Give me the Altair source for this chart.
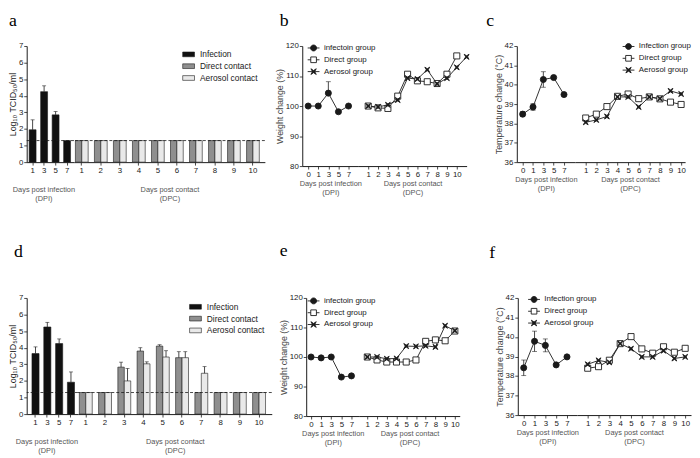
import altair as alt
import pandas as pd

# ------------------------------------------------------------------ data
DPI_BAR_DAYS = [1, 3, 5, 7]
DPI_LINE_DAYS = [0, 1, 3, 5, 7]
DPC_DAYS = [1, 2, 3, 4, 5, 6, 7, 8, 9, 10]
DPC_DAYS_B_AEROSOL = [1, 2, 3, 4, 5, 6, 7, 8, 9, 10, 11]
DETECTION_LIMIT = 1.3

BAR_GROUPS = ["Infection", "Direct contact", "Aerosol contact"]
WEIGHT_GROUPS = ["infectoin group", "Direct group", "Aerosol group"]
TEMP_GROUPS = ["Infection group", "Direct group", "Aerosol group"]

# panel a : virus titre (Log10 TCID50/ml)
a_inf = [1.95, 4.25, 2.85, 1.3]
a_inf_err = [0.6, 0.35, 0.2, 0.0]
a_direct = [1.3, 1.3, 1.3, 1.3, 1.3, 1.3, 1.3, 1.3, 1.3, 1.3]
a_direct_err = [0, 0, 0, 0, 0, 0, 0, 0, 0, 0]
a_aerosol = [1.3, 1.3, 1.3, 1.3, 1.3, 1.3, 1.3, 1.3, 1.3, 1.3]
a_aerosol_err = [0, 0, 0, 0, 0, 0, 0, 0, 0, 0]

# panel d : virus titre (Log10 TCID50/ml)
d_inf = [3.65, 5.25, 4.25, 1.92]
d_inf_err = [0.4, 0.28, 0.28, 0.62]
d_direct = [1.3, 1.3, 2.83, 3.8, 4.1, 3.4, 1.3, 1.3, 1.3, 1.3]
d_direct_err = [0, 0, 0.3, 0.2, 0.08, 0.36, 0, 0, 0, 0]
d_aerosol = [1.3, 1.3, 2.0, 3.03, 3.44, 3.4, 2.46, 1.3, 1.3, 1.3]
d_aerosol_err = [0, 0, 0.75, 0.12, 0.38, 0.36, 0.4, 0, 0, 0]

# panel b : weight change (%)
b_inf = [100.0, 100.0, 104.3, 98.1, 100.0]
b_inf_err_up = [0, 0, 3.8, 0, 0]
b_inf_err_dn = [0, 0, 0, 0, 0]
b_direct = [100.0, 99.4, 99.2, 103.3, 110.6, 108.4, 108.1, 107.5, 110.6, 116.7]
b_aerosol = [100.0, 99.7, 100.4, 102.0, 109.3, 109.0, 112.1, 107.4, 109.3, 112.9, 116.4]

# panel c : temperature (°C)
c_inf = [38.48, 38.85, 40.27, 40.37, 39.49]
c_inf_err_up = [0.13, 0.17, 0.4, 0, 0]
c_inf_err_dn = [0.13, 0.17, 0.4, 0, 0]
c_direct = [38.28, 38.48, 38.87, 39.4, 39.52, 39.28, 39.37, 39.27, 39.1, 38.98]
c_aerosol = [38.06, 38.18, 38.36, 39.37, 39.37, 38.85, 39.37, 39.28, 39.68, 39.52]

# panel e : weight change (%)
e_inf = [100.0, 99.7, 100.0, 93.2, 93.6]
e_inf_err_up = [0, 0, 0, 0, 0]
e_inf_err_dn = [0, 0, 0, 0, 0]
e_direct = [100.0, 99.0, 98.3, 98.3, 98.3, 99.0, 105.3, 105.8, 105.5, 108.8]
e_aerosol = [100.0, 100.0, 99.4, 99.5, 103.7, 103.6, 103.8, 103.4, 110.6, 108.9]

# panel f : temperature (°C)
f_inf = [38.42, 39.78, 39.57, 38.57, 38.98]
f_inf_err_up = [0.4, 0.52, 0.33, 0, 0]
f_inf_err_dn = [0.4, 0.52, 0.33, 0, 0]
f_direct = [38.4, 38.48, 38.81, 39.66, 40.02, 39.39, 39.17, 39.5, 39.22, 39.42]
f_aerosol = [38.6, 38.8, 38.7, 39.66, 39.4, 38.98, 38.98, 39.3, 38.9, 38.98]

# ------------------------------------------------------------------ style
SANS = "Liberation Sans"
SERIF = "Liberation Serif"
INK = "#1a1a1a"
GREY = "#555555"

STAR = "M0,-0.32L0.8,-0.85L0.32,0L0.8,0.85L0,0.32L-0.8,0.85L-0.32,0L-0.8,-0.85Z"
MARKERS = ["circle", "square", STAR]
LEGEND_MARKERS = [
    "M-1,0L1,0M0.5,0A0.5,0.5,0,1,1,-0.5,0A0.5,0.5,0,1,1,0.5,0Z",
    "M-1,0L-0.48,0M0.48,0L1,0M-0.48,-0.48L0.48,-0.48L0.48,0.48L-0.48,0.48Z",
    "M-1,0L1,0M0,-0.18L0.45,-0.48L0.18,0L0.45,0.48L0,0.18L-0.45,0.48L-0.18,0L-0.45,-0.48Z",
]
MARKER_FILLS = [INK, "#ffffff", INK]
BAR_FILLS = ["#111111", "#8f8f8f", "#e9e9e9"]
BAR_LEGEND_SYMBOL = "M-1,-0.4L1,-0.4L1,0.4L-1,0.4Z"

INDEP = dict(color="independent", fill="independent", shape="independent",
             stroke="independent", xOffset="independent")


def x_axis(title, title_pad, values=None, title_x=None):
    kw = dict(title=title, labelAngle=0, labelFont=SANS, labelFontSize=8,
              labelColor=INK, labelPadding=2, tickSize=3, tickWidth=0.8,
              tickColor=INK, domainColor=INK, domainWidth=1, grid=False,
              titleFont=SANS, titleFontSize=7.5, titleFontWeight="normal",
              titleColor=GREY, titlePadding=title_pad, titleLineHeight=9)
    if values is not None:
        kw["values"] = values
    if title_x is not None:
        kw["titleX"] = title_x
    return alt.Axis(**kw)


def y_axis(title, values, title_color):
    return alt.Axis(title=title, values=values, grid=False, tickSize=3,
                    tickWidth=0.8, tickColor=INK, domainColor=INK, domainWidth=1,
                    labelFont=SANS, labelFontSize=8, labelColor=INK,
                    labelPadding=1, titleFont=SANS, titleFontSize=9,
                    titleFontWeight="normal", titleColor=title_color,
                    titlePadding=1)


def letter_title(letter, offset, dx):
    return alt.TitleParams(text=letter, anchor="start", frame="group",
                           orient="top", font=SERIF, fontSize=18,
                           fontWeight="normal", color="#000000",
                           offset=offset, dx=dx, baseline="alphabetic")


def spacer(w, h):
    return alt.Chart(pd.DataFrame({"s": [0]})).mark_point(opacity=0).encode(
        x=alt.value(0), y=alt.value(0)).properties(width=w, height=h)


# ------------------------------------------------------------------ bar panels
def bar_panel(letter, inf, inf_err, direct, direct_err, aerosol, aerosol_err, lay):
    yscale = alt.Scale(domain=[0, 7], nice=False, zero=True)
    yax = y_axis("Log₁₀ TCID₅₀/ml", [0, 1, 2, 3, 4, 5, 6, 7], INK)

    def yd(field, ax=True):
        return alt.Y(field, type="quantitative", scale=yscale,
                     axis=yax if ax else None)

    dpi_df = pd.DataFrame({"day": DPI_BAR_DAYS, "value": inf, "err": inf_err})
    dpc_df = pd.DataFrame({
        "day": DPC_DAYS + DPC_DAYS,
        "group": [BAR_GROUPS[1]] * len(DPC_DAYS) + [BAR_GROUPS[2]] * len(DPC_DAYS),
        "value": direct + aerosol,
        "err": direct_err + aerosol_err,
    })
    lod_df = pd.DataFrame({"lod": [DETECTION_LIMIT]})

    # --- DPI part
    xd = alt.X("day:O", scale=alt.Scale(type="band", domain=DPI_BAR_DAYS,
                                        paddingInner=0.4,
                                        paddingOuter=lay["dpi_po"],
                                        align=lay["dpi_al"]),
               axis=x_axis(["Days post infection", "(DPI)"], 11,
                           title_x=lay["dpi_tx"]))
    bars = alt.Chart(dpi_df).mark_bar(color=BAR_FILLS[0], stroke=INK,
                                      strokeWidth=0.6).encode(x=xd, y=yd("value"))
    errs = alt.Chart(dpi_df).transform_filter("datum.err > 0").transform_calculate(
        hi="datum.value + datum.err")
    e_rule = errs.mark_rule(color=INK, strokeWidth=0.8).encode(
        x=xd, y=yd("value"), y2="hi:Q")
    e_cap = errs.mark_tick(color=INK, size=4, thickness=0.8).encode(x=xd, y=yd("hi"))
    lod = alt.Chart(lod_df).mark_rule(color=INK, strokeDash=[3, 2],
                                      strokeWidth=0.8).encode(y=yd("lod"))
    dpi = alt.layer(bars, e_rule, e_cap, lod).properties(
        width=lay["w_dpi"], height=lay["h"],
        title=letter_title(letter, lay["t_off"], lay["t_dx"]))

    # --- DPC part
    xc = alt.X("day:O", scale=alt.Scale(type="band", domain=DPC_DAYS,
                                        paddingInner=0.33,
                                        paddingOuter=lay["dpc_po"],
                                        align=lay["dpc_al"]),
               axis=x_axis(["Days post contact", "(DPC)"], 11))
    xo = alt.XOffset("group:N", scale=alt.Scale(domain=BAR_GROUPS[1:]))
    leg = alt.Legend(title=None, orient="none", legendX=lay["leg"][0],
                     legendY=lay["leg"][1], symbolType=BAR_LEGEND_SYMBOL,
                     symbolSize=144, symbolStrokeWidth=0.6, labelFont=SANS,
                     labelFontSize=8.5, labelColor=INK, labelOffset=5,
                     rowPadding=1, padding=0)
    col = alt.Color("group:N", scale=alt.Scale(domain=BAR_GROUPS, range=BAR_FILLS),
                    legend=leg)
    stk = alt.Stroke("group:N", scale=alt.Scale(domain=BAR_GROUPS,
                                                range=[INK, INK, INK]),
                     legend=leg)
    cbars = alt.Chart(dpc_df).mark_bar(strokeWidth=0.6, opacity=1).encode(
        x=xc, xOffset=xo, y=yd("value", False), color=col, stroke=stk)
    cerrs = alt.Chart(dpc_df).transform_filter("datum.err > 0").transform_calculate(
        hi="datum.value + datum.err")
    c_rule = cerrs.mark_rule(color=INK, strokeWidth=0.8).encode(
        x=xc, xOffset=xo, y=yd("value", False), y2="hi:Q")
    c_cap = cerrs.mark_tick(color=INK, size=4, thickness=0.8).encode(
        x=xc, xOffset=xo, y=yd("hi", False))
    clod = alt.Chart(lod_df).mark_rule(color=INK, strokeDash=[3, 2],
                                       strokeWidth=0.8).encode(y=yd("lod", False))
    dpc = alt.layer(cbars, c_rule, c_cap, clod).properties(
        width=lay["w_dpc"], height=lay["h"])
    return [dpi, dpc]


# ------------------------------------------------------------------ line panels
def line_panel(letter, groups, ytitle, ydomain, yvalues, inf, inf_up, inf_dn,
               direct, aer_days, aerosol, dpc_domain, lay):
    yscale = alt.Scale(domain=ydomain, nice=False, zero=False)
    yax = y_axis(ytitle, yvalues, "#444444")

    def yd(field, ax):
        return alt.Y(field, type="quantitative", scale=yscale,
                     axis=yax if ax else None)

    dpi_df = pd.DataFrame({"day": DPI_LINE_DAYS, "value": inf, "up": inf_up,
                           "dn": inf_dn, "group": groups[0]})
    dpc_df = pd.DataFrame({
        "day": DPC_DAYS + aer_days,
        "group": [groups[1]] * len(DPC_DAYS) + [groups[2]] * len(aer_days),
        "value": direct + aerosol,
    })
    legend_df = pd.DataFrame({"group": groups})

    shape = alt.Shape("group:N", scale=alt.Scale(domain=groups, range=MARKERS),
                      legend=None)
    fill = alt.Fill("group:N", scale=alt.Scale(domain=groups, range=MARKER_FILLS),
                    legend=None)

    def legend_layer():
        leg = alt.Legend(title=None, orient="none", legendX=lay["leg"][0],
                         legendY=lay["leg"][1], symbolSize=144,
                         symbolStrokeWidth=0.9,
                         labelFont=SANS, labelFontSize=8, labelColor=INK,
                         labelOffset=4, rowPadding=0, padding=0)
        return alt.Chart(legend_df).transform_filter("false").mark_point(
            opacity=1, fillOpacity=1, strokeWidth=0.9).encode(
            shape=alt.Shape("group:N", scale=alt.Scale(domain=groups,
                                                       range=LEGEND_MARKERS),
                            legend=leg),
            fill=alt.Fill("group:N", scale=alt.Scale(domain=groups,
                                                     range=MARKER_FILLS),
                          legend=leg),
            stroke=alt.Stroke("group:N", scale=alt.Scale(domain=groups,
                                                         range=[INK, INK, INK]),
                              legend=leg))

    def part(df, x, with_y, with_err, with_legend, w, title=None):
        layers = []
        if with_err:
            errs = alt.Chart(df).transform_calculate(
                hi="datum.value + datum.up", lo="datum.value - datum.dn")
            layers.append(errs.transform_filter("datum.up > 0 || datum.dn > 0")
                          .mark_rule(color=INK, strokeWidth=0.8)
                          .encode(x=x, y=yd("lo", with_y), y2="hi:Q"))
            layers.append(errs.transform_filter("datum.up > 0")
                          .mark_tick(color=INK, size=5, thickness=0.8)
                          .encode(x=x, y=yd("hi", with_y)))
            layers.append(errs.transform_filter("datum.dn > 0")
                          .mark_tick(color=INK, size=5, thickness=0.8)
                          .encode(x=x, y=yd("lo", with_y)))
        layers.append(alt.Chart(df).mark_line(color=INK, strokeWidth=0.9).encode(
            x=x, y=yd("value", with_y), detail="group:N"))
        layers.append(alt.Chart(df).mark_point(
            size=38, opacity=1, fillOpacity=1, stroke=INK, strokeWidth=0.9).encode(
            x=x, y=yd("value", with_y), shape=shape, fill=fill))
        if with_legend:
            layers.append(legend_layer())
        props = dict(width=w, height=lay["h"])
        if title is not None:
            props["title"] = title
        return alt.layer(*layers).resolve_scale(
            shape="independent", fill="independent",
            stroke="independent").properties(**props)

    xd = alt.X("day:O", scale=alt.Scale(type="point", domain=DPI_LINE_DAYS,
                                        padding=lay["dpi_p"], align=lay["dpi_al"]),
               axis=x_axis(["Days post infection", "(DPI)"], 1))
    xc = alt.X("day:O", scale=alt.Scale(type="point", domain=dpc_domain,
                                        padding=lay["dpc_p"], align=lay["dpc_al"]),
               axis=x_axis(["Days post contact", "(DPC)"], 1, values=DPC_DAYS))

    dpi = part(dpi_df, xd, True, True, lay["leg_in"] == "dpi", lay["w_dpi"],
               letter_title(letter, lay["t_off"], lay["t_dx"]))
    dpc = part(dpc_df, xc, False, False, lay["leg_in"] == "dpc", lay["w_dpc"])
    return [dpi, dpc]


# ------------------------------------------------------------------ panels
pa = bar_panel("a", a_inf, a_inf_err, a_direct, a_direct_err, a_aerosol,
               a_aerosol_err,
               dict(w_dpi=48, dpi_po=0.255, dpi_al=0.42, dpi_tx=17,
                    w_dpc=194, dpc_po=0.185, dpc_al=0.21, h=118,
                    leg=(110, 2), t_off=-2, t_dx=-18))
pd_ = bar_panel("d", d_inf, d_inf_err, d_direct, d_direct_err, d_aerosol,
                d_aerosol_err,
                dict(w_dpi=52, dpi_po=0.365, dpi_al=0.61, dpi_tx=20,
                     w_dpc=197, dpc_po=0.2, dpc_al=0.19, h=118,
                     leg=(113, 2.5), t_off=20, t_dx=-13))
pb = line_panel("b", WEIGHT_GROUPS, "Weight change (%)", [80, 120],
                [80, 90, 100, 110, 120], b_inf, b_inf_err_up, b_inf_err_dn,
                b_direct, DPC_DAYS_B_AEROSOL, b_aerosol, DPC_DAYS_B_AEROSOL,
                dict(w_dpi=57, dpi_p=0.78, dpi_al=0.375, w_dpc=110, dpc_p=0.5,
                     dpc_al=1.0, h=122, leg_in="dpi", leg=(5, -4.5),
                     t_off=-2.5, t_dx=-23))
pc = line_panel("c", TEMP_GROUPS, "Temperature change (°C)", [36, 42],
                [36, 37, 38, 39, 40, 41, 42], c_inf, c_inf_err_up, c_inf_err_dn,
                c_direct, DPC_DAYS, c_aerosol, DPC_DAYS,
                dict(w_dpi=59, dpi_p=0.81, dpi_al=0.35, w_dpc=112, dpc_p=0.7,
                     dpc_al=0.73, h=118, leg_in="dpc", leg=(48, -6),
                     t_off=-2, t_dx=-31))
pe = line_panel("e", WEIGHT_GROUPS, "Weight change (%)", [80, 120],
                [80, 90, 100, 110, 120], e_inf, e_inf_err_up, e_inf_err_dn,
                e_direct, DPC_DAYS, e_aerosol, DPC_DAYS,
                dict(w_dpi=54, dpi_p=0.63, dpi_al=0.38, w_dpc=102, dpc_p=0.66,
                     dpc_al=0.62, h=120, leg_in="dpi", leg=(1, -3.5),
                     t_off=20.5, t_dx=-27))
pf = line_panel("f", TEMP_GROUPS, "Temperature change (°C)", [36, 42],
                [36, 37, 38, 39, 40, 41, 42], f_inf, f_inf_err_up, f_inf_err_dn,
                f_direct, DPC_DAYS, f_aerosol, DPC_DAYS,
                dict(w_dpi=60, dpi_p=0.73, dpi_al=0.375, w_dpc=116, dpc_p=0.77,
                     dpc_al=0.65, h=119, leg_in="dpi", leg=(10, -5),
                     t_off=18, t_dx=-29))

row1 = alt.hconcat(pa[0], pa[1], spacer(38, 118), pb[0], pb[1], spacer(51, 118),
                   pc[0], pc[1], spacing=0, bounds="flush").resolve_scale(**INDEP)
row2 = alt.hconcat(pd_[0], pd_[1], spacer(35, 118), pe[0], pe[1], spacer(59, 118),
                   pf[0], pf[1], spacing=0, bounds="flush").resolve_scale(**INDEP)

chart = alt.vconcat(row1, row2, spacing=40, bounds="full").resolve_scale(
    **INDEP).properties(
    padding={"left": 0, "top": 0, "right": 0, "bottom": 0},
    background="#ffffff",
).configure_view(stroke="transparent")

chart.save("out.html", embed_options={"renderer": "svg", "actions": False})
